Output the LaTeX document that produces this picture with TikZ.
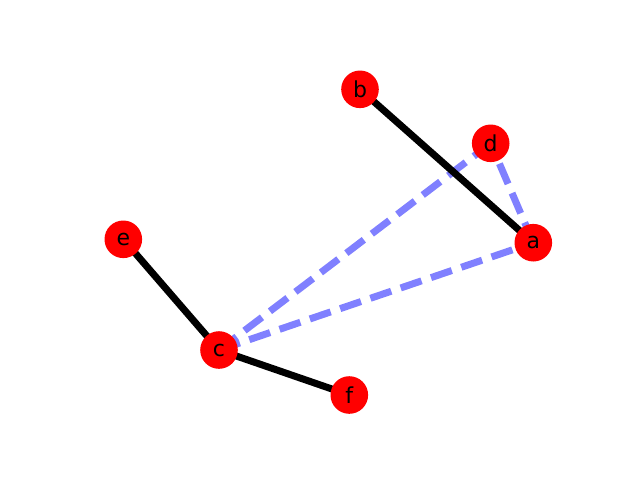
\documentclass[tikz,border=0pt]{standalone}
\usepackage{fontspec}
\setmainfont{DejaVu Sans}
\definecolor{nodered}{RGB}{255,0,0}
\definecolor{edgeblue}{RGB}{128,128,255}
\newcommand{\vlabel}[1]{\fontsize{22pt}{24pt}\selectfont #1}
\begin{document}
\begin{tikzpicture}[x=1pt,y=-1pt,
  vertex/.style={circle,fill=nodered,minimum size=37.6pt,inner sep=0pt},
  solidedge/.style={draw=black,line width=7pt},
  dashedge/.style={draw=edgeblue,line width=7pt,dash pattern=on 22pt off 10pt}]
\useasboundingbox (0,0) rectangle (640,480);
\coordinate (pa) at (533.3,242.7);
\coordinate (pb) at (360,89.3);
\coordinate (pc) at (219,350);
\coordinate (pd) at (490.7,143.3);
\coordinate (pe) at (123.3,239.3);
\coordinate (pf) at (349.3,395);
\draw[dashedge] (pa) -- (pd);
\draw[dashedge] (pc) -- (pd);
\draw[dashedge] (pc) -- (pa);
\draw[solidedge] (pb) -- (pa);
\draw[solidedge] (pe) -- (pc);
\draw[solidedge] (pc) -- (pf);
\node[vertex] (a) at (pa) {\vlabel{a}};
\node[vertex] (b) at (pb) {\vlabel{b}};
\node[vertex] (c) at (pc) {\vlabel{c}};
\node[vertex] (d) at (pd) {\vlabel{d}};
\node[vertex] (e) at (pe) {\vlabel{e}};
\node[vertex] (f) at (pf) {\vlabel{f}};
\end{tikzpicture}
\end{document}
